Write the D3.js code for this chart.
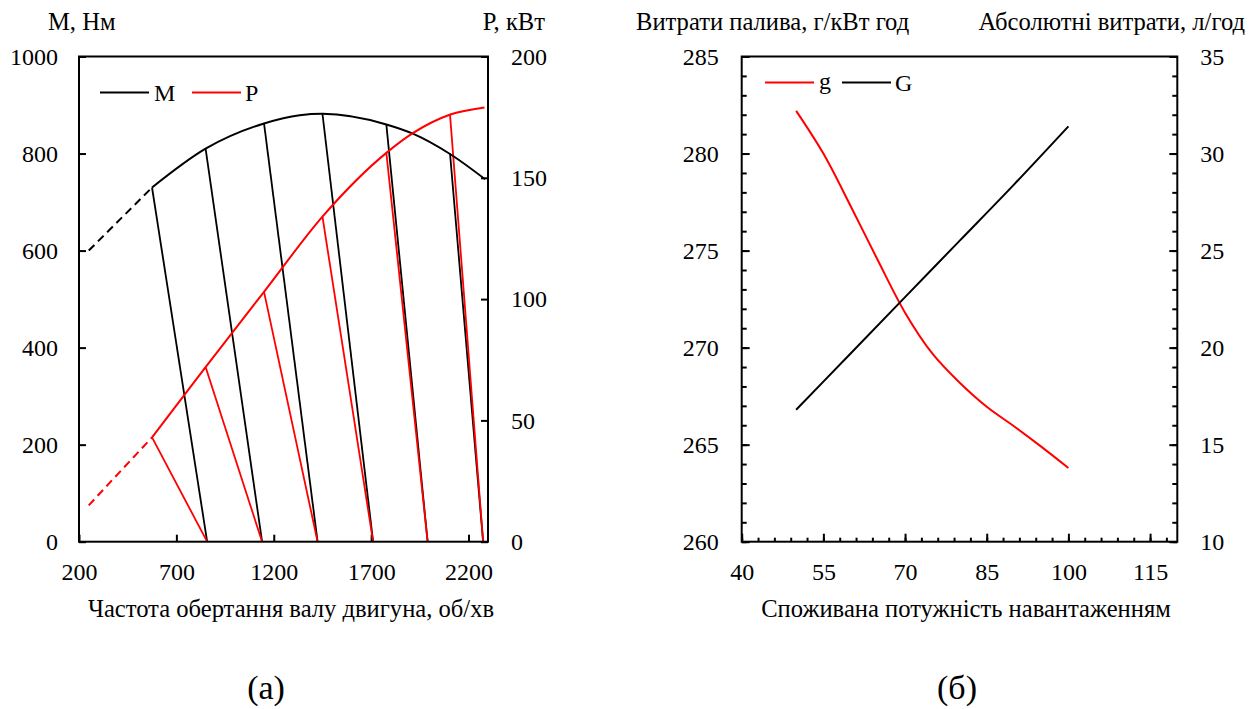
<!DOCTYPE html>
<html>
<head>
<meta charset="utf-8">
<script src="https://cdn.jsdelivr.net/npm/d3@7"></script>
<style>
    body { margin: 0; background: #fff; }
</style>
</head>
<body>
<svg id="grafico" width="1257" height="709"></svg>
<script>
// ---- (а) швидкісна характеристика ----
const rpmDash = [250, 575];
const torqueDash = [600, 730];
const powerDash = [15, 43];
const rpmM = [575, 850, 1150, 1333, 1450, 1778, 1914, 2105, 2285];
const torque = [730, 810, 862, 879, 882, 860, 841, 799, 747];
const rpmP = [575, 850, 1150, 1450, 1786, 1914, 2103, 2282];
const power = [43, 72, 103, 134, 160.8, 168.4, 176, 179];
// регуляторні гілки
const branchRpm = [575, 850, 1150, 1450, 1778, 2105];
const branchM = [730, 810, 862, 882, 860, 800];
const branchP = [43, 72, 103, 134, 160.4, 176];
const branchEnd = [858, 1140, 1425, 1710, 1990, 2275];
const ticksRpm = [200, 700, 1200, 1700, 2200];
const ticksM = [0, 200, 400, 600, 800, 1000];
const ticksP = [0, 50, 100, 150, 200];

// ---- (б) витрати палива ----
const load = [50, 55, 60, 65, 70, 75, 80, 85, 90, 95, 100];
const gSpec = [282.2, 280.0, 277.3, 274.5, 271.8, 269.7, 268.2, 266.95, 265.95, 264.9, 263.8];
const loadG = [50, 60, 70, 80, 90, 100];
const gAbs = [16.8, 19.7, 22.6, 25.5, 28.4, 31.4];
const ticksLoad = [40, 55, 70, 85, 100, 115];
const ticksSpec = [260, 265, 270, 275, 280, 285];
const ticksAbs = [10, 15, 20, 25, 30, 35];

const svg = d3.select('#grafico');
const fuente = 24;        // мітки осей і легенда
const fuenteTitulo = 24.6; // підписи осей
const familia = 'Liberation Serif';
const rojo = '#ff0000';
const arriba = 56.5, abajo = 541.7;

function marco (x, y) {
    svg.append('rect')
        .attr('x', x.range()[0])
        .attr('y', y.range()[1])
        .attr('width', x.range()[1] - x.range()[0])
        .attr('height', y.range()[0] - y.range()[1])
        .attr('fill', 'none')
        .attr('stroke', '#000')
        .attr('stroke-width', 2);
}

function eje (axis, tx, ty, conTexto) {
    const g = svg.append('g')
        .attr('transform', 'translate(' + tx + ',' + ty + ')')
        .call(axis.tickFormat(d3.format('d')));
    g.attr('font-family', familia).attr('font-size', fuente);
    g.select('.domain').remove();
    g.selectAll('.tick line').attr('stroke', '#000').attr('stroke-width', 2);
    g.selectAll('.tick text').attr('fill', '#000');
    if (!conTexto) g.selectAll('.tick text').remove();
    return g;
}

function linea (x, y, xs, ys, color, dash, curva) {
    const l = d3.line()
        .x(function (d, i) { return x(xs[i]); })
        .y(function (d) { return y(d); })
        .curve(curva || d3.curveMonotoneX);
    svg.append('path')
        .attr('d', l(ys))
        .attr('fill', 'none')
        .attr('stroke', color)
        .attr('stroke-width', 2)
        .attr('stroke-dasharray', dash ? '8,5' : null);
}

function texto (x, y, t, anchor, size) {
    svg.append('text')
        .attr('x', x).attr('y', y)
        .attr('text-anchor', anchor || 'start')
        .attr('font-family', familia)
        .attr('font-size', size || fuente)
        .attr('fill', '#000')
        .text(t);
}

// ================= (а) =================
const xA = d3.scaleLinear().domain([200, 2300]).range([79, 488]);
const yM = d3.scaleLinear().domain([0, 1000]).range([abajo, arriba]);
const yP = d3.scaleLinear().domain([0, 200]).range([abajo, arriba]);

eje(d3.axisBottom(xA).tickValues(ticksRpm).tickSize(-7).tickPadding(21), 0, abajo, true);
eje(d3.axisLeft(yM).tickValues(ticksM).tickSize(-7).tickPadding(21), xA.range()[0], 0, true);
eje(d3.axisRight(yP).tickValues(ticksP).tickSize(-7).tickPadding(23), xA.range()[1], 0, true);

// регуляторні гілки
for (let i = 0; i < branchRpm.length; i++) {
    svg.append('line')
        .attr('x1', xA(branchRpm[i])).attr('y1', yM(branchM[i]))
        .attr('x2', xA(branchEnd[i])).attr('y2', yM(0))
        .attr('stroke', '#000').attr('stroke-width', 1.8);
    svg.append('line')
        .attr('x1', xA(branchRpm[i])).attr('y1', yP(branchP[i]))
        .attr('x2', xA(branchEnd[i])).attr('y2', yP(0))
        .attr('stroke', rojo).attr('stroke-width', 1.8);
}

linea(xA, yM, rpmDash, torqueDash, '#000', true);
linea(xA, yM, rpmM, torque, '#000', false);
linea(xA, yP, rpmDash, powerDash, rojo, true);
linea(xA, yP, rpmP, power, rojo, false);
marco(xA, yM);

// легенда
svg.append('line').attr('x1', 100).attr('x2', 149).attr('y1', 92.5).attr('y2', 92.5).attr('stroke', '#000').attr('stroke-width', 2);
texto(154, 101, 'M');
svg.append('line').attr('x1', 192).attr('x2', 241).attr('y1', 92.5).attr('y2', 92.5).attr('stroke', rojo).attr('stroke-width', 2);
texto(245, 101, 'P');

texto(48, 30, 'M, Нм', 'start', fuenteTitulo);
texto(545, 30, 'P, кВт', 'end', fuenteTitulo);
texto(291, 617, 'Частота обертання валу двигуна, об/хв', 'middle', fuenteTitulo);
texto(266, 699, '(а)', 'middle', 34);

// ================= (б) =================
const xB = d3.scaleLinear().domain([40, 120]).range([741.7, 1177.3]);
const yS = d3.scaleLinear().domain([260, 285]).range([abajo, arriba]);
const yA = d3.scaleLinear().domain([10, 35]).range([abajo, arriba]);

eje(d3.axisBottom(xB).tickValues(d3.range(40, 121, 3)).tickSize(-4), 0, abajo, false);
eje(d3.axisBottom(xB).tickValues(ticksLoad).tickSize(-8).tickPadding(21), 0, abajo, true);
eje(d3.axisLeft(yS).tickValues(d3.range(260, 286, 1)).tickSize(-5), xB.range()[0], 0, false);
eje(d3.axisLeft(yS).tickValues(ticksSpec).tickSize(-8).tickPadding(23), xB.range()[0], 0, true);
eje(d3.axisRight(yA).tickValues(d3.range(10, 36, 1)).tickSize(-5), xB.range()[1], 0, false);
eje(d3.axisRight(yA).tickValues(ticksAbs).tickSize(-8).tickPadding(23), xB.range()[1], 0, true);

linea(xB, yS, load, gSpec, rojo, false, d3.curveCatmullRom);
linea(xB, yA, loadG, gAbs, '#000', false);
marco(xB, yS);

svg.append('line').attr('x1', 765).attr('x2', 814).attr('y1', 82.5).attr('y2', 82.5).attr('stroke', rojo).attr('stroke-width', 2);
texto(819, 89, 'g');
svg.append('line').attr('x1', 842).attr('x2', 891).attr('y1', 82.5).attr('y2', 82.5).attr('stroke', '#000').attr('stroke-width', 2);
texto(895, 91, 'G');

texto(636, 30, 'Витрати палива, г/кВт год', 'start', fuenteTitulo);
texto(1245, 30, 'Абсолютні витрати, л/год', 'end', fuenteTitulo);
texto(966, 617, 'Споживана потужність навантаженням', 'middle', fuenteTitulo);
texto(957, 699, '(б)', 'middle', 34);
</script>
</body>
</html>
